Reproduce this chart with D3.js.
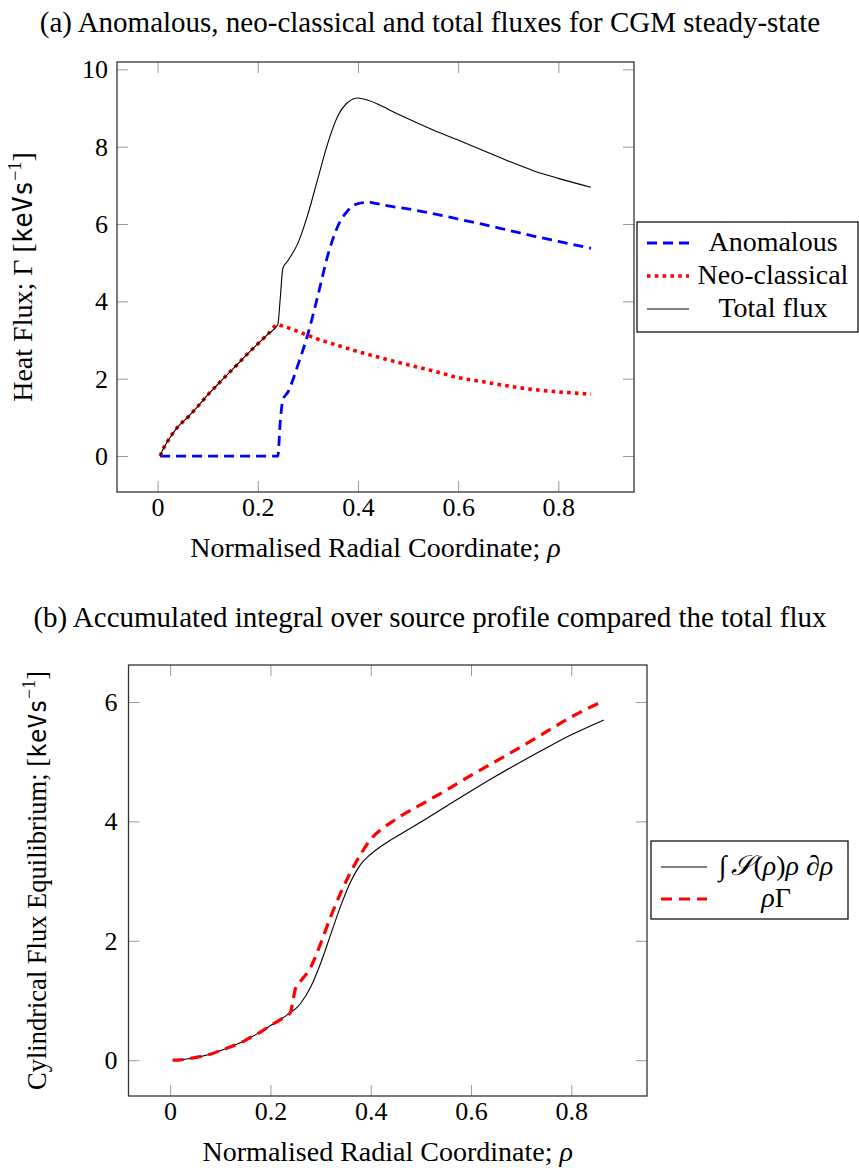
<!DOCTYPE html>
<html>
<head>
<meta charset="utf-8">
<script src="https://cdn.jsdelivr.net/npm/d3@7"></script>
<style>
  body { margin: 0; background: #fff; }
  text { font-family: "Liberation Serif", "DejaVu Serif", serif; fill: #000; }
</style>
</head>
<body>
<div id="chart"></div>
<script>
// radial grid shared by every series
const rho = [0.005, 0.01, 0.02, 0.04, 0.06, 0.08, 0.10, 0.12, 0.14, 0.16, 0.18, 0.20, 0.22, 0.24,
  0.245, 0.25, 0.26, 0.28, 0.30, 0.32, 0.34, 0.36, 0.38, 0.40, 0.42, 0.44, 0.46, 0.50,
  0.55, 0.60, 0.65, 0.70, 0.75, 0.80, 0.865];

// (a) fluxes
const anomalous = [0, 0, 0, 0, 0, 0, 0, 0, 0, 0, 0, 0, 0, 0,
  0.9, 1.45, 1.65, 2.35, 3.15, 4.15, 5.2, 5.95, 6.35, 6.53, 6.56, 6.52, 6.47, 6.39,
  6.27, 6.13, 5.99, 5.84, 5.69, 5.55, 5.37];
const neoClassical = [0, 0.15, 0.38, 0.75, 1.0, 1.28, 1.58, 1.85, 2.12, 2.38, 2.65, 2.9, 3.15, 3.4,
  3.38, 3.36, 3.32, 3.22, 3.12, 3.02, 2.94, 2.86, 2.78, 2.7, 2.63, 2.56, 2.49, 2.36,
  2.2, 2.03, 1.92, 1.81, 1.72, 1.66, 1.6];
const totalFlux = [0, 0.15, 0.38, 0.75, 1.0, 1.28, 1.58, 1.85, 2.12, 2.38, 2.65, 2.9, 3.15, 3.4,
  4.1, 4.85, 5.05, 5.5, 6.25, 7.18, 8.1, 8.8, 9.15, 9.26, 9.2, 9.1, 8.97, 8.72,
  8.43, 8.17, 7.9, 7.63, 7.38, 7.18, 6.95];

// (b) cylindrical flux balance
const sourceIntegral = [0, 0, 0.005, 0.03, 0.06, 0.1, 0.16, 0.22, 0.29, 0.38, 0.47, 0.58, 0.68, 0.8,
  0.83, 0.86, 0.95, 1.22, 1.62, 2.1, 2.58, 2.99, 3.28, 3.45, 3.58, 3.69, 3.79, 3.99,
  4.25, 4.51, 4.76, 5.0, 5.23, 5.45, 5.7];
const rhoGamma = [0, 0, 0.005, 0.03, 0.06, 0.1, 0.16, 0.22, 0.29, 0.38, 0.47, 0.58, 0.68, 0.8,
  1.0, 1.2, 1.32, 1.55, 1.95, 2.4, 2.8, 3.15, 3.45, 3.7, 3.86, 3.98, 4.09, 4.28,
  4.52, 4.77, 5.01, 5.25, 5.5, 5.75, 6.02];

const xTicks = [0, 0.2, 0.4, 0.6, 0.8];
const yTicksA = [0, 2, 4, 6, 8, 10];
const yTicksB = [0, 2, 4, 6];

const svg = d3.select('#chart').append('svg')
  .attr('width', 859)
  .attr('height', 1168);

function drawPanel(p) {
  const x = d3.scaleLinear().domain(p.xDomain).range([p.left, p.right]);
  const y = d3.scaleLinear().domain(p.yDomain).range([p.bottom, p.top]);
  const g = svg.append('g');

  // title
  g.append('text')
    .attr('x', p.titleX).attr('y', p.titleY)
    .attr('text-anchor', 'middle')
    .style('font-size', '29px')
    .text(p.title);

  // ticks on all four sides, pointing inward
  const tickStyle = sel => {
    sel.select('.domain').remove();
    sel.attr('font-family', null);
    sel.selectAll('.tick line').attr('stroke', '#9a9a9a').attr('stroke-width', 1);
    sel.selectAll('.tick text').style('font-size', '26px').style('font-family', '"Liberation Serif", "DejaVu Serif", serif');
  };
  g.append('g').attr('transform', `translate(0,${p.bottom})`)
    .call(d3.axisBottom(x).tickValues(xTicks).tickSizeInner(-11).tickSizeOuter(0).tickPadding(6).tickFormat(d => d))
    .call(tickStyle);
  g.append('g').attr('transform', `translate(0,${p.top})`)
    .call(d3.axisTop(x).tickValues(xTicks).tickSizeInner(-11).tickSizeOuter(0).tickFormat(''))
    .call(tickStyle);
  g.append('g').attr('transform', `translate(${p.left},0)`)
    .call(d3.axisLeft(y).tickValues(p.yTicks).tickSizeInner(-11).tickSizeOuter(0).tickPadding(p.yPad).tickFormat(d => d))
    .call(tickStyle);
  g.append('g').attr('transform', `translate(${p.right},0)`)
    .call(d3.axisRight(y).tickValues(p.yTicks).tickSizeInner(-11).tickSizeOuter(0).tickFormat(''))
    .call(tickStyle);

  // data lines
  const line = vals => d3.line()
    .x((d, i) => x(rho[i]))
    .y(d => y(d))
    .curve(d3.curveMonotoneX)(vals);
  p.series.forEach(s => {
    g.append('path')
      .attr('d', line(s.values))
      .attr('fill', 'none')
      .attr('stroke', s.color)
      .attr('stroke-width', s.width)
      .attr('stroke-dasharray', s.dash || null);
  });

  // frame
  g.append('rect')
    .attr('x', p.left).attr('y', p.top)
    .attr('width', p.right - p.left).attr('height', p.bottom - p.top)
    .attr('fill', 'none').attr('stroke', '#333').attr('stroke-width', 1.3);

  // x label
  const xl = g.append('text')
    .attr('x', (p.left + p.right) / 2).attr('y', p.bottom + 65)
    .attr('text-anchor', 'middle')
    .style('font-size', '28px');
  xl.append('tspan').text('Normalised Radial Coordinate; ');
  xl.append('tspan').style('font-style', 'italic').text('ρ');

  // y label
  const yl = g.append('text')
    .attr('transform', `translate(${p.yLabelX},${(p.top + p.bottom) / 2}) rotate(-90)`)
    .attr('text-anchor', 'middle')
    .style('font-size', p.yLabelSize + 'px');
  yl.append('tspan').text(p.yLabel + ' [');
  yl.append('tspan').style('font-family', '"DejaVu Sans Mono", monospace').style('font-size', (p.yLabelSize - 2) + 'px').text('keVs');
  yl.append('tspan').attr('dy', -11).style('font-size', '18px').text('−1');
  yl.append('tspan').attr('dy', 11).text(']');

  // legend
  const lg = g.append('g');
  lg.append('rect')
    .attr('x', p.legend.x).attr('y', p.legend.y)
    .attr('width', p.legend.w).attr('height', p.legend.h)
    .attr('fill', '#fff').attr('stroke', '#000').attr('stroke-width', 1.2);
  p.series.forEach((s, i) => {
    const ly = p.legend.y + p.legend.first + i * p.legend.step;
    lg.append('line')
      .attr('x1', p.legend.x + 10).attr('x2', p.legend.x + 10 + p.legend.lineLen)
      .attr('y1', ly).attr('y2', ly)
      .attr('stroke', s.color)
      .attr('stroke-width', s.width)
      .attr('stroke-dasharray', s.dash || null);
    const t = lg.append('text')
      .attr('x', p.legend.textX).attr('y', ly + 8)
      .attr('text-anchor', 'middle')
      .style('font-size', '28px');
    s.label(t);
  });
}

drawPanel({
  title: '(a) Anomalous, neo-classical and total fluxes for CGM steady-state',
  titleX: 430, titleY: 32,
  left: 117, right: 634, top: 62, bottom: 492,
  xDomain: [-0.081, 0.951], yDomain: [-0.93, 10.19],
  yTicks: yTicksA, yPad: 9,
  yLabel: 'Heat Flux; Γ', yLabelX: 32, yLabelSize: 28,
  series: [
    { values: anomalous, color: '#0000ff', width: 2.8, dash: '10,6', label: t => t.text('Anomalous') },
    { values: neoClassical, color: '#ff0000', width: 3.6, dash: '3.6,4.2', label: t => t.text('Neo-classical') },
    { values: totalFlux, color: '#000', width: 1.1, label: t => t.text('Total flux') }
  ],
  legend: { x: 637, y: 222, w: 221, h: 110, first: 21, step: 33, lineLen: 42, textX: 773 }
});

drawPanel({
  title: '(b) Accumulated integral over source profile compared the total flux',
  titleX: 430, titleY: 627,
  left: 128.5, right: 647, top: 665, bottom: 1096,
  xDomain: [-0.083, 0.951], yDomain: [-0.6, 6.62],
  yTicks: yTicksB, yPad: 11,
  yLabel: 'Cylindrical Flux Equilibrium;', yLabelX: 46, yLabelSize: 26.5,
  series: [
    { values: sourceIntegral, color: '#000', width: 1.1, label: t => {
      t.append('tspan').text('∫');
      t.append('tspan').attr('dx', 5).style('font-style', 'italic').text('𝒮');
      t.append('tspan').text('(');
      t.append('tspan').style('font-style', 'italic').text('ρ');
      t.append('tspan').text(')');
      t.append('tspan').style('font-style', 'italic').text('ρ ∂ρ');
    } },
    { values: rhoGamma, color: '#ff0000', width: 3.2, dash: '11,7', label: t => {
      t.append('tspan').style('font-style', 'italic').text('ρ');
      t.append('tspan').text('Γ');
    } }
  ],
  legend: { x: 651, y: 841, w: 197, h: 78, first: 26, step: 32, lineLen: 46, textX: 776 }
});
</script>
</body>
</html>
